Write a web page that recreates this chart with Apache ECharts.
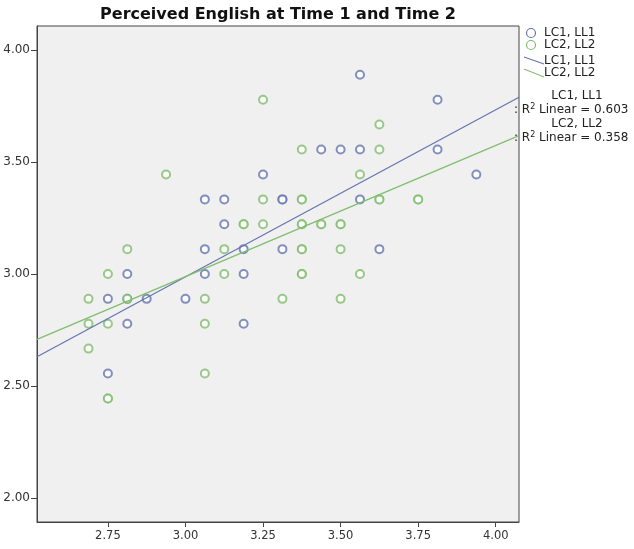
<!DOCTYPE html>
<html>
<head>
<meta charset="utf-8">
<script src="https://cdn.jsdelivr.net/npm/echarts@6/dist/echarts.min.js"></script>
<style>
  html, body { margin: 0; padding: 0; background: #fff; }
  #chart { width: 634px; height: 549px; }
</style>
</head>
<body>
<div id="chart"></div>
<script>
// LC1, LL1 (blue) points: [Time 1, Time 2]
var lc1Points = [
  [3.5625, 3.889], [3.8125, 3.778], [3.4375, 3.556], [3.5, 3.556], [3.5625, 3.556],
  [3.8125, 3.556], [3.25, 3.444], [3.9375, 3.444], [3.0625, 3.333], [3.125, 3.333],
  [3.3125, 3.333], [3.3125, 3.333], [3.5625, 3.333], [3.125, 3.222], [3.0625, 3.111],
  [3.1875, 3.111], [3.3125, 3.111], [3.625, 3.111], [2.8125, 3.0], [3.0625, 3.0],
  [3.1875, 3.0], [2.75, 2.889], [2.8125, 2.889], [2.875, 2.889], [3.0, 2.889],
  [2.8125, 2.778], [3.1875, 2.778], [2.75, 2.556]
];
// LC2, LL2 (green) points
var lc2Points = [
  [3.25, 3.778], [3.625, 3.667], [3.375, 3.556], [3.625, 3.556], [2.9375, 3.444],
  [3.5625, 3.444], [3.25, 3.333], [3.375, 3.333], [3.375, 3.333], [3.625, 3.333],
  [3.625, 3.333], [3.75, 3.333], [3.75, 3.333], [3.1875, 3.222], [3.1875, 3.222],
  [3.25, 3.222], [3.375, 3.222], [3.375, 3.222], [3.4375, 3.222], [3.4375, 3.222],
  [3.5, 3.222], [3.5, 3.222], [2.8125, 3.111], [3.125, 3.111], [3.375, 3.111],
  [3.375, 3.111], [3.5, 3.111], [2.75, 3.0], [3.125, 3.0], [3.375, 3.0], [3.375, 3.0],
  [3.5625, 3.0], [2.6875, 2.889], [2.8125, 2.889], [3.0625, 2.889], [3.3125, 2.889],
  [3.5, 2.889], [2.6875, 2.778], [2.75, 2.778], [3.0625, 2.778], [2.6875, 2.667],
  [3.0625, 2.556], [2.75, 2.444], [2.75, 2.444]
];
// linear fits: [intercept, slope]
var lc1Fit = [0.751, 0.7456];
var lc2Fit = [1.2314, 0.5856];
var r2Values = ['0.603', '0.358'];
var seriesNames = ['LC1, LL1', 'LC2, LL2'];
var xTicks = [2.75, 3.00, 3.25, 3.50, 3.75, 4.00];
var yTicks = [2.00, 2.50, 3.00, 3.50, 4.00];
var xRange = [2.5215, 4.075];
var yRange = [1.893, 4.107];

var BLUE = '#6574b0';
var GREEN = '#80bd6c';
var FONT = 'DejaVu Sans';

function fitLine(fit) {
  return xRange.map(function (x) { return [x, fit[0] + fit[1] * x]; });
}

function r2Label(x, y, value) {
  return { type: 'text', x: x, y: y, style: {
    text: ': {b|R}{s|2} Linear = ' + value, fontFamily: FONT, fontSize: 12, fill: '#222', verticalAlign: 'middle',
    rich: {
      b: { fontFamily: FONT, fontSize: 12, fill: '#222' },
      s: { fontFamily: FONT, fontSize: 8, fill: '#222', verticalAlign: 'top', padding: [0, 0, 6, 0] }
    }
  } };
}

function legendText(x, y, text, align) {
  return { type: 'text', x: x, y: y, style: {
    text: text, fontFamily: FONT, fontSize: 12, fill: '#222', align: align || 'left', verticalAlign: 'middle'
  } };
}

var chart = echarts.init(document.getElementById('chart'));
var option = {
  animation: false,
  backgroundColor: '#ffffff',
  title: {
    text: 'Perceived English at Time 1 and Time 2',
    left: 273, top: 2, textAlign: 'center',
    textStyle: { fontFamily: FONT, fontSize: 16, fontWeight: 'bold', color: '#111' }
  },
  grid: {
    left: 37, right: 115, top: 26, bottom: 27,
    show: true, backgroundColor: '#f0f0f0', borderColor: '#444', borderWidth: 1
  },
  xAxis: {
    type: 'value', min: xRange[0], max: xRange[1],
    splitLine: { show: false },
    axisLine: { show: true, onZero: false, lineStyle: { color: '#444' } },
    axisTick: { show: true, length: 5, customValues: xTicks, lineStyle: { color: '#444' } },
    axisLabel: {
      customValues: xTicks, margin: 8, color: '#333', fontFamily: FONT, fontSize: 11.5,
      formatter: function (v) { return v.toFixed(2); }
    }
  },
  yAxis: {
    type: 'value', min: yRange[0], max: yRange[1],
    splitLine: { show: false },
    axisLine: { show: true, onZero: false, lineStyle: { color: '#444' } },
    axisTick: { show: true, length: 6, customValues: yTicks, lineStyle: { color: '#444' } },
    axisLabel: {
      customValues: yTicks, margin: 7, color: '#333', fontFamily: FONT, fontSize: 12,
      formatter: function (v) { return v.toFixed(2); }
    }
  },
  series: [
    {
      name: seriesNames[0], type: 'scatter', data: lc1Points,
      symbol: 'emptyCircle', symbolSize: 8,
      itemStyle: { color: BLUE, borderColor: BLUE, borderWidth: 1.4 }
    },
    {
      name: seriesNames[1], type: 'scatter', data: lc2Points,
      symbol: 'emptyCircle', symbolSize: 8,
      itemStyle: { color: GREEN, borderColor: GREEN, borderWidth: 1.4 }
    },
    {
      type: 'line', data: fitLine(lc1Fit), symbol: 'none', silent: true,
      lineStyle: { color: BLUE, width: 1.2 }
    },
    {
      type: 'line', data: fitLine(lc2Fit), symbol: 'none', silent: true,
      lineStyle: { color: GREEN, width: 1.2 }
    }
  ],
  graphic: [
    // legend
    { type: 'circle', shape: { cx: 531, cy: 33, r: 4.5 }, style: { fill: 'none', stroke: BLUE, lineWidth: 1.2 } },
    legendText(544, 33, seriesNames[0]),
    { type: 'circle', shape: { cx: 531, cy: 45, r: 4.5 }, style: { fill: 'none', stroke: GREEN, lineWidth: 1.2 } },
    legendText(544, 45, seriesNames[1]),
    { type: 'line', shape: { x1: 524, y1: 57, x2: 544, y2: 64 }, style: { stroke: BLUE, lineWidth: 1.1 } },
    legendText(544, 61, seriesNames[0]),
    { type: 'line', shape: { x1: 524, y1: 69, x2: 544, y2: 77 }, style: { stroke: GREEN, lineWidth: 1.1 } },
    legendText(544, 73, seriesNames[1]),
    // fit labels
    legendText(577, 96, seriesNames[0], 'center'),
    r2Label(514, 110, r2Values[0]),
    legendText(577, 124, seriesNames[1], 'center'),
    r2Label(514, 138, r2Values[1])
  ]
};
chart.setOption(option);
</script>
</body>
</html>
